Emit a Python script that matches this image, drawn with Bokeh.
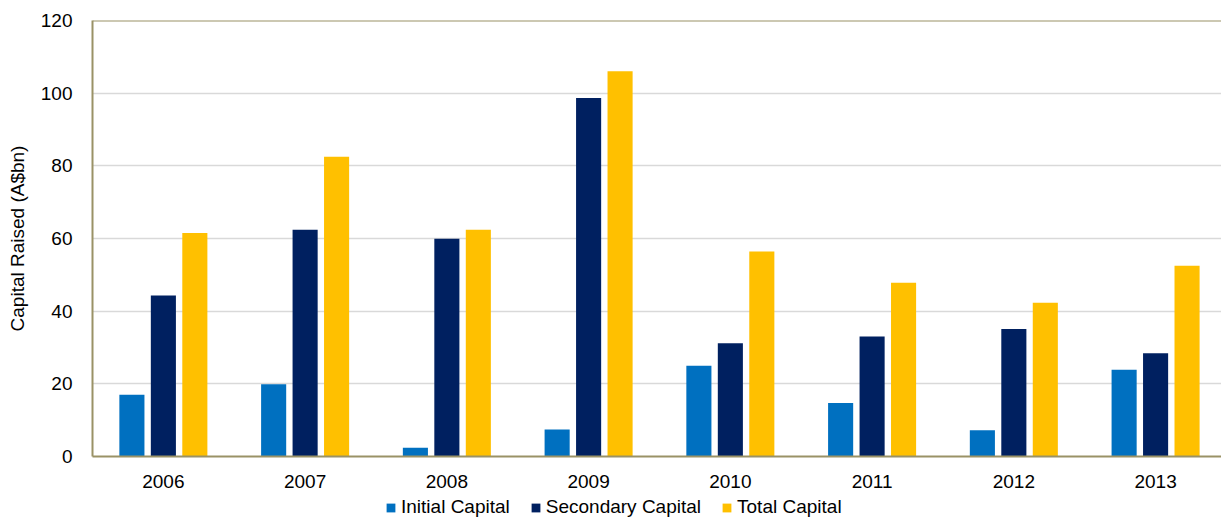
from bokeh.plotting import figure
from bokeh.layouts import column
from bokeh.models import Range1d, FixedTicker, Legend, LegendItem, Span, ColumnDataSource
from bokeh.transform import dodge
from bokeh.embed import file_html
from bokeh.resources import INLINE

years = ["2006", "2007", "2008", "2009", "2010", "2011", "2012", "2013"]
initial = [17.0, 19.9, 2.4, 7.4, 25.0, 14.7, 7.2, 23.9]
secondary = [44.3, 62.4, 59.9, 98.7, 31.2, 33.0, 35.1, 28.4]
total = [61.5, 82.5, 62.4, 106.0, 56.4, 47.8, 42.3, 52.5]
series_names = ["Initial Capital", "Secondary Capital", "Total Capital"]
y_ticks = [0, 20, 40, 60, 80, 100, 120]

FONT = "Liberation Sans"
OLIVE = "#9A9266"
COLORS = ["#0070C0", "#002060", "#FFC000"]
COLS = ["initial", "secondary", "total"]

xpos = [i + 0.5 for i in range(len(years))]
src = ColumnDataSource(dict(x=xpos, initial=initial, secondary=secondary, total=total))

p = figure(width=1221, height=490, x_range=Range1d(0, 7.965), y_range=Range1d(0, 120),
           output_backend="svg", toolbar_location=None,
           min_border_left=92, min_border_right=0, min_border_top=20, min_border_bottom=34)
p.outline_line_color = None

w = 0.177
for col, off, color in zip(COLS, [-0.222, 0.0, 0.222], COLORS):
    p.vbar(x=dodge("x", off), top=col, width=w, source=src, fill_color=color, line_color=None)

p.add_layout(Span(location=120, dimension="width", line_color=OLIVE, line_width=2))

p.xgrid.grid_line_color = None
p.ygrid.grid_line_color = "#D9D9D9"
p.ygrid.grid_line_width = 1.5
p.yaxis.ticker = FixedTicker(ticks=y_ticks)
p.xaxis.ticker = FixedTicker(ticks=xpos)
p.xaxis.major_label_overrides = {x: y for x, y in zip(xpos, years)}

for ax in (p.xaxis[0], p.yaxis[0]):
    ax.axis_line_color = OLIVE
    ax.axis_line_width = 2
    ax.major_tick_line_color = None
    ax.minor_tick_line_color = None
    ax.major_label_text_font = FONT
    ax.major_label_text_font_size = "19px"
    ax.major_label_text_color = "#000000"

p.xaxis.major_label_standoff = 12
p.yaxis.major_label_standoff = 14
p.yaxis.axis_label = "Capital Raised (A$bn)"
p.yaxis.axis_label_text_font = FONT
p.yaxis.axis_label_text_font_size = "19px"
p.yaxis.axis_label_text_font_style = "normal"
p.yaxis.axis_label_text_color = "#000000"
p.yaxis.axis_label_standoff = 10

# legend strip below the chart (its renderers share the data but lie far outside its visible range)
lf = figure(width=1221, height=27, x_range=Range1d(0, 8), y_range=Range1d(1000, 1001),
            output_backend="svg", toolbar_location=None, x_axis_type=None, y_axis_type=None,
            min_border_left=92, min_border_right=0, min_border_top=0, min_border_bottom=0)
lf.outline_line_color = None
lf.xgrid.grid_line_color = None
lf.ygrid.grid_line_color = None
items = []
for name, col, color in zip(series_names, COLS, COLORS):
    r = lf.vbar(x="x", top=col, width=w, source=src, fill_color=color, line_color=None)
    items.append(LegendItem(label=name, renderers=[r]))

legend = Legend(items=items, orientation="horizontal", location=(293, -1),
                border_line_color=None, background_fill_alpha=0,
                label_text_font=FONT, label_text_font_size="19px", label_text_color="#000000",
                glyph_width=11, glyph_height=11, label_standoff=5, spacing=20,
                padding=0, margin=0)
lf.add_layout(legend, "center")

layout = column(p, lf, spacing=0)
open("out.html", "w").write(file_html(layout, INLINE))
